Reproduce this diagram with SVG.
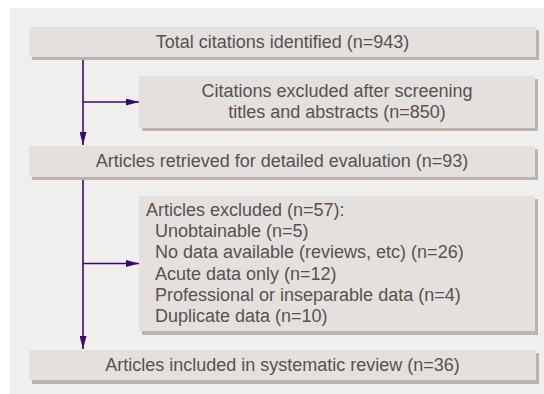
<svg xmlns="http://www.w3.org/2000/svg" width="544" height="394" viewBox="0 0 544 394">
<style>
.bx{fill:#e4e0dd}
.sh{fill:#bbb3ae}
.t{font-family:"Liberation Sans",Arial,sans-serif;font-size:18px;fill:#57524e}
.c{text-anchor:middle}
.ln{stroke:#3c0a6e;stroke-width:1.6;fill:none}
</style>
<defs>
<marker id="ah" viewBox="0 0 13 7" refX="13" refY="3.5" markerWidth="13" markerHeight="7" markerUnits="userSpaceOnUse" orient="auto">
<path d="M0,0 L13,3.5 L0,7 Z" fill="#3c0a6e"/>
</marker>
</defs>
<rect x="0" y="0" width="544" height="394" fill="#ffffff"/>
<rect x="10" y="8" width="534" height="386" fill="#f0efee"/>
<g id="connectors">
<path class="ln" d="M83,57 V145" marker-end="url(#ah)"/>
<path class="ln" d="M83,102 H139" marker-end="url(#ah)"/>
<path class="ln" d="M83,177 V349" marker-end="url(#ah)"/>
<path class="ln" d="M83,263.5 H139" marker-end="url(#ah)"/>
</g>
<g id="n1">
<rect class="sh" x="32" y="30" width="507" height="30"/>
<rect class="bx" x="29" y="27" width="507" height="30"/>
<text class="t c" x="282.5" y="48">Total citations identified (n=943)</text>
</g>
<g id="n2">
<rect class="sh" x="142" y="79" width="396" height="52"/>
<rect class="bx" x="139" y="76" width="396" height="52"/>
<text class="t c" x="337" y="96.7">Citations excluded after screening</text>
<text class="t c" x="337" y="118.3">titles and abstracts (n=850)</text>
</g>
<g id="n3">
<rect class="sh" x="32" y="149" width="506" height="31"/>
<rect class="bx" x="29" y="146" width="506" height="31"/>
<text class="t c" x="282" y="167.3">Articles retrieved for detailed evaluation (n=93)</text>
</g>
<g id="n4">
<rect class="sh" x="142" y="199" width="396" height="136"/>
<rect class="bx" x="139" y="196" width="396" height="135"/>
<text class="t" x="146" y="216">Articles excluded (n=57):</text>
<text class="t" x="155" y="237.2">Unobtainable (n=5)</text>
<text class="t" x="155" y="258.4">No data available (reviews, etc) (n=26)</text>
<text class="t" x="155" y="279.6">Acute data only (n=12)</text>
<text class="t" x="155" y="300.8">Professional or inseparable data (n=4)</text>
<text class="t" x="155" y="322">Duplicate data (n=10)</text>
</g>
<g id="n5">
<rect class="sh" x="32" y="353" width="507" height="31"/>
<rect class="bx" x="29" y="350" width="507" height="30"/>
<text class="t c" x="282.5" y="371.3">Articles included in systematic review (n=36)</text>
</g>
</svg>
